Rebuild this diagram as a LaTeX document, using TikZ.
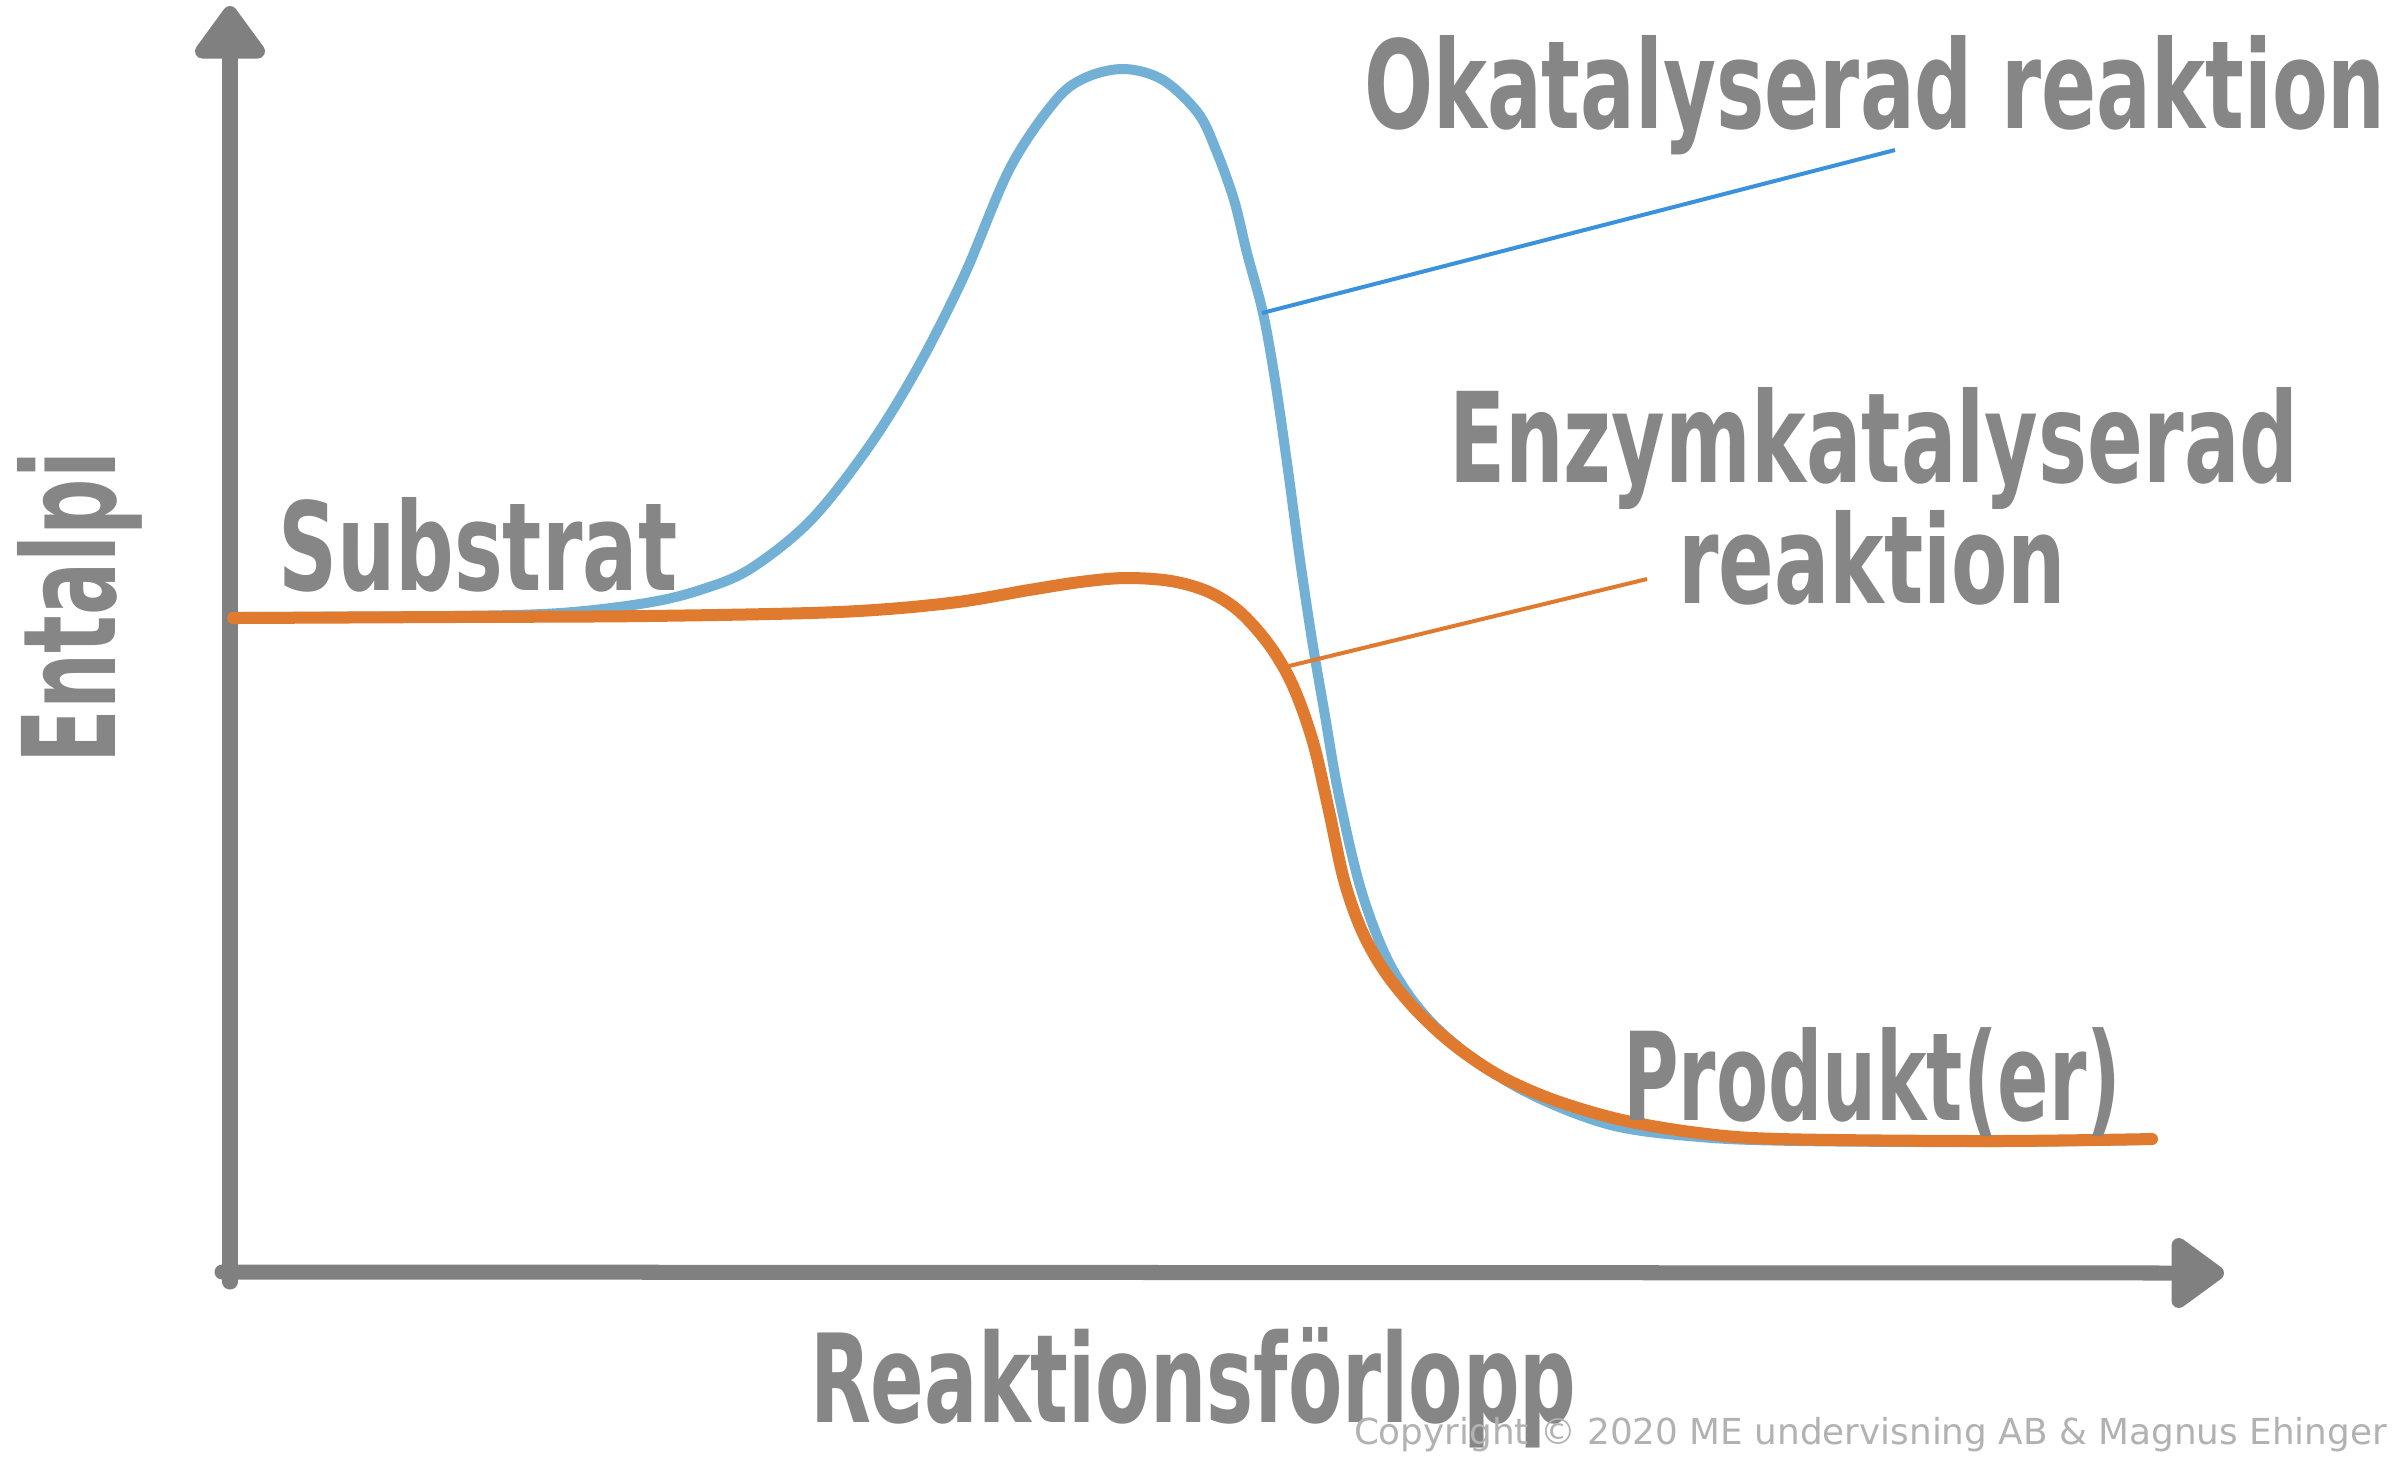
\documentclass[tikz,border=0pt]{standalone}
\usepackage{fontspec}
\usepackage{graphicx}
\usetikzlibrary{arrows.meta}
\newfontfamily\handfont{DejaVu Sans}
\newfontfamily\copyfont{DejaVu Sans}
\definecolor{axisgray}{RGB}{128,128,128}
\definecolor{textgray}{RGB}{134,134,134}
\definecolor{copygray}{RGB}{178,178,178}
\definecolor{curveblue}{RGB}{115,176,214}
\definecolor{leadblue}{RGB}{58,146,220}
\definecolor{curveorange}{RGB}{224,122,47}
\newcommand{\handtext}[3]{\resizebox{#1}{#2}{\handfont\bfseries #3}}
\begin{document}
\begin{tikzpicture}[x=0.01cm,y=-0.01cm,
  axisline/.style={draw=axisgray, line width=0.15cm, line cap=round,
    -{Triangle[length=0.58cm,width=0.80cm,round]}},
  lbl/.style={inner sep=0pt, outer sep=0pt, anchor=base west, text=textgray},
  bluecurve/.style={draw=curveblue, line width=0.10cm, line cap=round, line join=round},
  orangecurve/.style={draw=curveorange, line width=0.12cm, line cap=round, line join=round},
  bluelead/.style={draw=leadblue, line width=0.04cm},
  orangelead/.style={draw=curveorange, line width=0.04cm}]
\useasboundingbox (0,0) rectangle (2400,1456);

% axes
\coordinate (ybot) at (230,1282);
\coordinate (ytip) at (230,6);
\coordinate (xleft) at (222,1272);
\coordinate (xtip) at (2224,1273);
\draw[axisline] (ybot) -- (ytip);
\draw[axisline] (xleft) -- (xtip);

% uncatalysed (blue)
\draw[bluecurve] plot[smooth, tension=0.55] coordinates {
 (233,617) (450,616) (560,613) (646,603) (700,590) (750,569) (811,520)
 (870,445) (918,367) (964,276) (1010,168) (1056,100) (1087,77) (1125,69)
 (1163,80) (1198,113) (1216,150) (1234,200) (1247,253) (1263,313) (1275,380)
 (1288,470) (1300,560) (1312,640) (1324,710) (1339,796) (1362,893)
 (1393,970) (1439,1030) (1515,1086) (1607,1124) (1700,1137) (1800,1141)
 (1990,1142) (2143,1140)};

% enzyme catalysed (orange)
\draw[orangecurve] plot[smooth, tension=0.55] coordinates {
 (233,618) (450,617) (646,616) (838,612) (950,603) (1029,590) (1080,582)
 (1125,578) (1171,581) (1209,592) (1240,612) (1270,646) (1293,686)
 (1313,742) (1329,811) (1344,880) (1362,931) (1385,972) (1416,1010)
 (1454,1045) (1500,1076) (1554,1100) (1622,1120) (1699,1133) (1780,1139)
 (1990,1141) (2152,1139)};

% leader lines
\coordinate (bl1) at (1262,313);
\coordinate (bl2) at (1895,150);
\coordinate (ol1) at (1289,666);
\coordinate (ol2) at (1647,579);
\draw[bluelead] (bl1) -- (bl2);
\draw[orangelead] (ol1) -- (ol2);

% labels
\node[lbl] (okat) at (1364,128) {\handtext{10.21cm}{0.93cm}{Okatalyserad reaktion}};
\node[lbl] (enz1) at (1449,482) {\handtext{8.49cm}{0.95cm}{Enzymkatalyserad}};
\node[lbl] (enz2) at (1678,603) {\handtext{3.88cm}{0.93cm}{reaktion}};
\node[lbl] (subs) at (278,590) {\handtext{3.99cm}{0.93cm}{Substrat}};
\node[lbl] (prod) at (1623,1120) {\handtext{4.98cm}{0.93cm}{Produkt(er)}};
\node[lbl] (xlab) at (810,1422) {\handtext{7.66cm}{0.95cm}{Reaktionsförlopp}};
\node[lbl, rotate=90] (ylab) at (115,763) {\handtext{3.11cm}{0.98cm}{Entalpi}};
\node[inner sep=0pt, outer sep=0pt, anchor=base west, text=copygray] (copy) at (1354,1444)
  {\resizebox{10.32cm}{!}{\copyfont Copyright © 2020 ME undervisning AB \& Magnus Ehinger}};
\end{tikzpicture}
\end{document}
